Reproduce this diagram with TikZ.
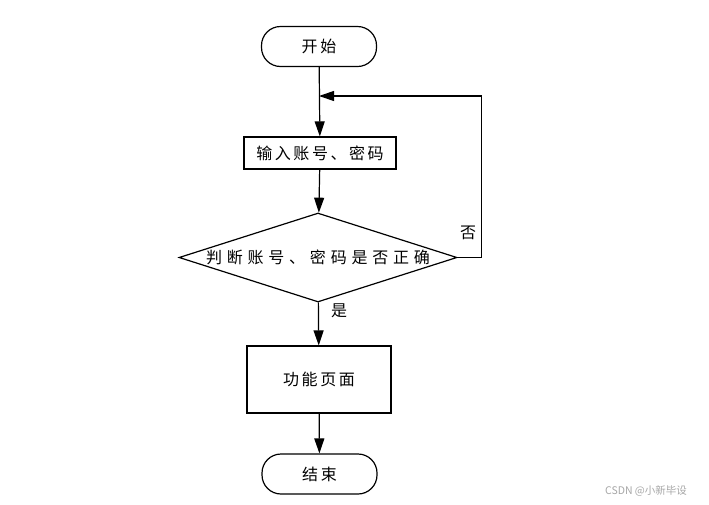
\documentclass[tikz,border=0pt]{standalone}
\usepackage{fontspec}
\newfontfamily\cjk[LetterSpace=16]{Noto Sans CJK SC}
\newfontfamily\cjkwide[LetterSpace=30]{Noto Sans CJK SC}
\newfontfamily\cjkplain{Noto Sans CJK SC}
\usetikzlibrary{positioning, arrows.meta, shapes.geometric}

\begin{document}
\begin{tikzpicture}[x=1pt, y=-1pt, >={Triangle[length=15pt, width=10pt]},
  every node/.style={font=\cjk\fontsize{16pt}{18pt}\selectfont},
  terminal/.style={draw, line width=1.2pt, rectangle, rounded corners=19pt,
    minimum width=115pt, minimum height=40pt, inner sep=0pt},
  process/.style={draw, line width=1.2pt, rectangle, inner sep=0pt},
  decision/.style={draw, line width=1.2pt, diamond, aspect=3.12, inner sep=0pt,
    minimum width=278pt, minimum height=89pt},
  arr/.style={->, line width=1.2pt}]

\useasboundingbox (0,0) rectangle (709,504);

% Nodes
\node[terminal] (start) at (319,46.5) {开始};
\node[process, minimum width=152pt, minimum height=32pt] (input) at (320,153) {输入账号、密码};
\node[decision, font=\cjkwide\fontsize{16pt}{18pt}\selectfont] (judge) at (318,257.5) {判断账号、密码是否正确};
\node[process, minimum width=144pt, minimum height=67pt] (func) at (319,379.5) {功能页面};
\node[terminal] (end) at (319.5,474) {结束};

% Return point of the loop
\coordinate (loop) at (319,96);

% Connectors
\draw[arr] (start) -- (input);
\draw[arr] (input) -- (judge);
\draw[arr] (judge) -- (func);
\draw[arr] (func) -- (end);
\draw[arr] (judge.east) -- ++(24,0) |- (loop);

% Labels
\node (yes) at (339,311) {是};
\node (no) at (468,233) {否};

% Watermark
\node[text=gray!70, font=\cjkplain\fontsize{10.5pt}{12pt}\selectfont] (mark) at (646,491) {CSDN @小新毕设};

\end{tikzpicture}
\end{document}
